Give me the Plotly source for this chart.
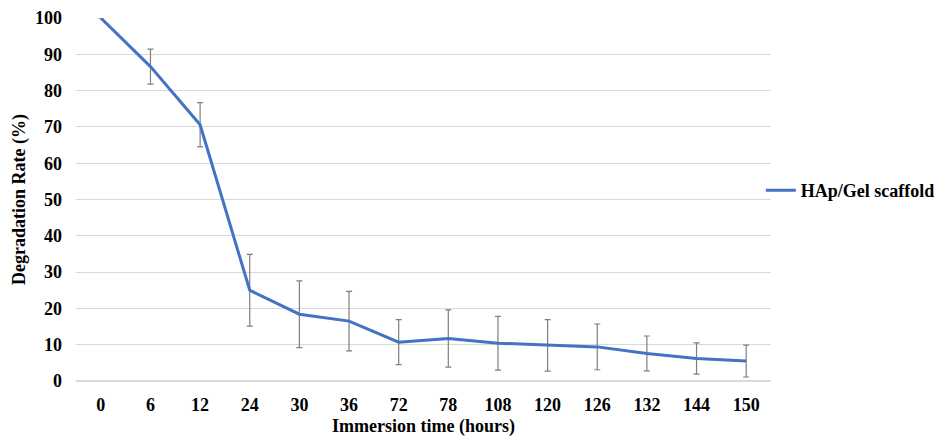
import plotly.graph_objects as go

hours = ["0", "6", "12", "24", "30", "36", "72", "78", "108", "120", "126", "132", "144", "150"]
degradation = [100, 86.6, 70.6, 25.0, 18.4, 16.5, 10.7, 11.7, 10.4, 9.8, 9.4, 7.6, 6.2, 5.5]
error = [0, 4.8, 6.1, 9.9, 9.2, 8.2, 6.2, 7.9, 7.4, 7.1, 6.3, 4.8, 4.3, 4.4]

font_family = "Liberation Serif, Times New Roman, serif"
fnt = dict(family=font_family, size=18, color="black")

fig = go.Figure()
fig.add_trace(go.Scatter(
    x=hours, y=degradation, mode="lines", name="<b>HAp/Gel scaffold</b>",
    line=dict(color="#4472C4", width=3),
    error_y=dict(type="data", array=error, visible=True, color="#7f7f7f", thickness=1.2, width=3),
))

fig.update_layout(
    width=934, height=429,
    margin=dict(l=68, r=171, t=10, b=56, autoexpand=False),
    paper_bgcolor="white", plot_bgcolor="white",
    font=fnt,
    showlegend=True,
    legend=dict(xref="container", x=0.806, xanchor="left", y=0.525, yanchor="middle",
                font=fnt, bgcolor="rgba(0,0,0,0)", itemwidth=30),
    xaxis=dict(type="category", range=[-0.5, len(hours) - 0.5], showgrid=False, showline=False, ticks="",
               automargin=False, tickfont=fnt, ticklabelstandoff=11,
               title=dict(text="<b>Immersion time (hours)</b>", standoff=10, font=fnt)),
    yaxis=dict(range=[0, 100], dtick=10, showgrid=True, gridcolor="#d9d9d9", gridwidth=1,
               zeroline=True, zerolinecolor="#d9d9d9", zerolinewidth=1.5,
               showline=False, ticks="", automargin=False, tickfont=fnt, ticklabelstandoff=13,
               title=dict(text="<b>Degradation Rate (%)</b>", standoff=4, font=fnt)),
)
fig.update_xaxes(tickprefix="<b>", ticksuffix="</b>")
fig.update_yaxes(tickprefix="<b>", ticksuffix="</b>")

fig.write_html("out.html")
